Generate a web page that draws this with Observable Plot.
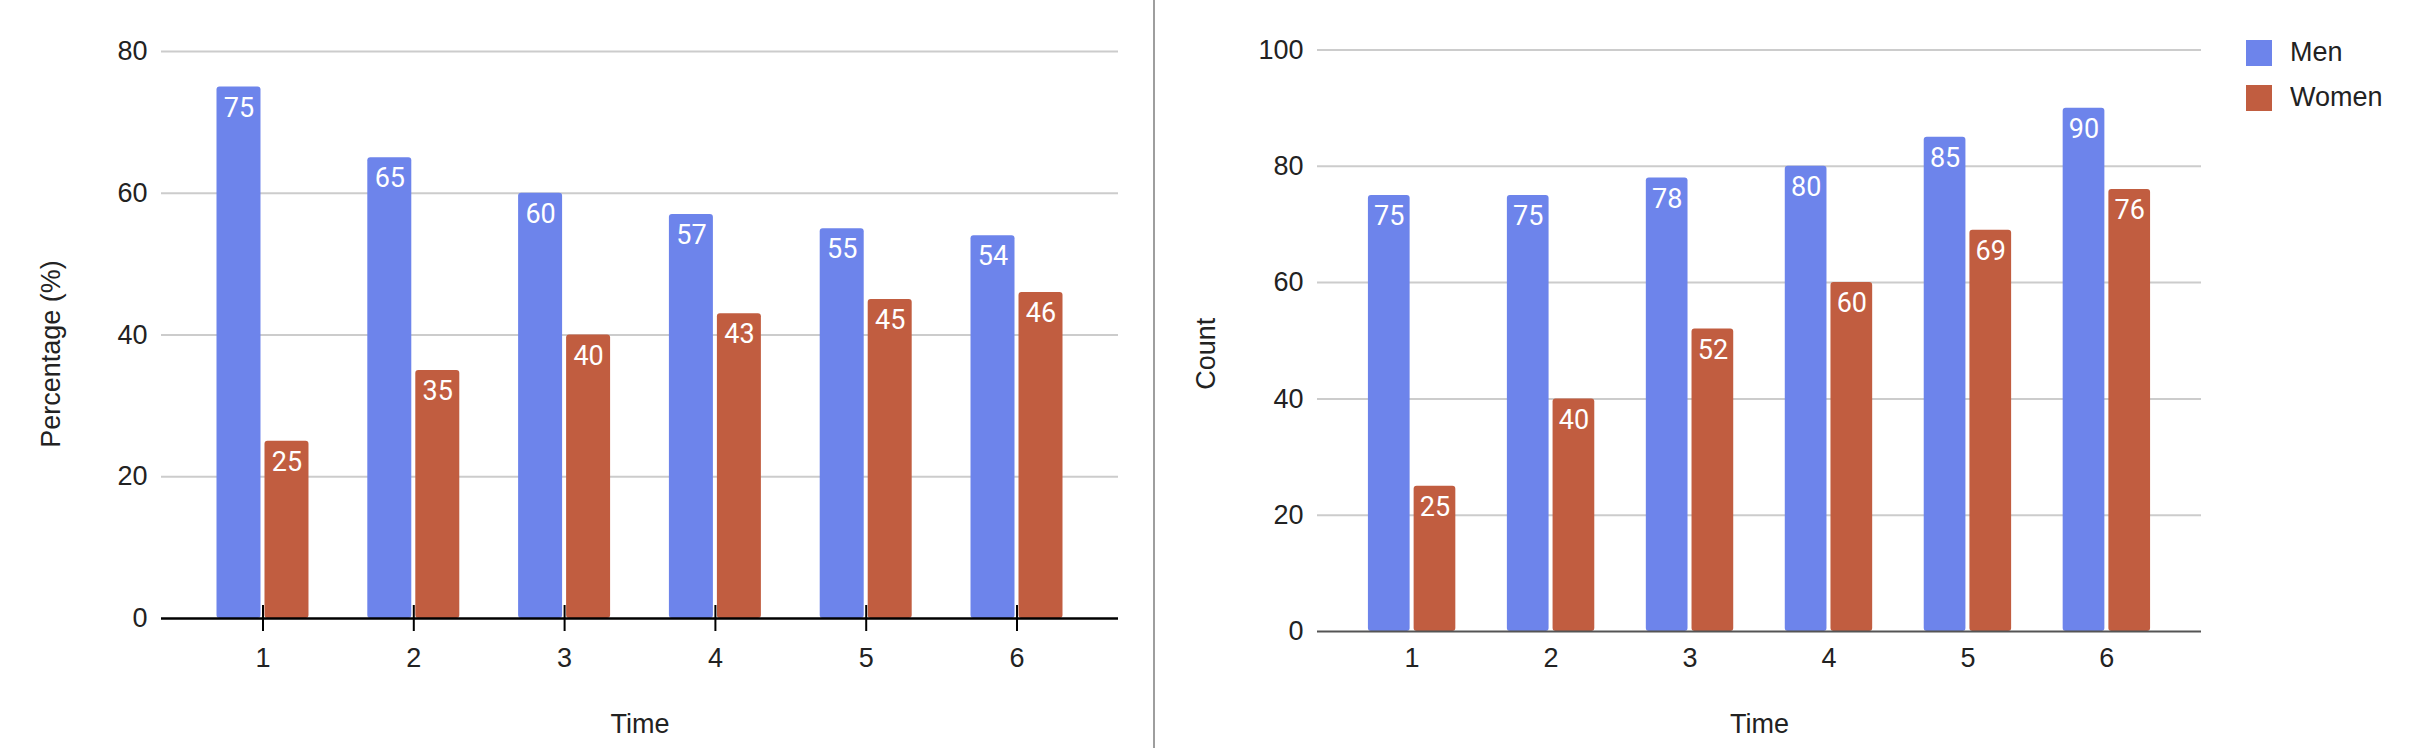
<!DOCTYPE html>
<html>
<head>
<meta charset="utf-8">
<script src="https://cdn.jsdelivr.net/npm/d3@7"></script>
<script src="https://cdn.jsdelivr.net/npm/@observablehq/plot@0.6"></script>
<style>
  html, body { margin: 0; padding: 0; background: #fff; }
  body { width: 2420px; height: 748px; overflow: hidden; position: relative; font-family: "Liberation Sans", Arial, sans-serif; }
  #left { position: absolute; left: 0; top: 0; }
  #right { position: absolute; left: 1160px; top: 0; }
  #divider { position: absolute; left: 1153px; top: 0; width: 2px; height: 748px; background: #9e9e9e; }
  #legend { position: absolute; left: 2246px; top: 37px; }
  #legend .lg-swatch { padding-bottom: 14px !important; margin: 0 !important; }
  #legend .lg-swatch svg { margin-right: 18px !important; border-radius: 3px; }
</style>
</head>
<body>
<div id="left"></div>
<div id="divider"></div>
<div id="right"></div>
<div id="legend"></div>
<script>
// ---- data ----
const times = ["1", "2", "3", "4", "5", "6"];
const series = ["Men", "Women"];
const seriesColors = ["#6d84eb", "#c15d40"];
const pctMen = [75, 65, 60, 57, 55, 54];
const pctWomen = [25, 35, 40, 43, 45, 46];
const cntMen = [75, 75, 78, 80, 85, 90];
const cntWomen = [25, 40, 52, 60, 69, 76];
const pctTicks = [0, 20, 40, 60, 80];
const cntTicks = [0, 20, 40, 60, 80, 100];

function rows(values, name) {
  return times.map((t, i) => ({time: t, series: name, value: values[i]}));
}

function bandWidth(range, n, pi, po) {
  const step = range / (n - pi + 2 * po);
  return step * (1 - pi);
}

function chart(cfg) {
  const {width, marginLeft, marginRight, marginTop, marginBottom, men, women, ticks,
         yLabel, yLabelOffset, yLabelShift, pi, po, axisStroke, axisWidth, xTicks, xPad, xLabelOffset} = cfg;
  const bw = bandWidth(width - marginLeft - marginRight, times.length, pi, po);
  const gap = 4;
  const half = bw / 2 + gap / 2;
  const off = bw / 4 + gap / 4;
  const menRows = rows(men, "Men");
  const womenRows = rows(women, "Women");
  const font = "'Liberation Sans', Arial, sans-serif";
  const marks = [
    Plot.gridY(ticks.filter(d => d > 0), {stroke: "#cccccc", strokeOpacity: 1, strokeWidth: 2}),
    Plot.axisY(ticks, {tickSize: 0, tickPadding: 14, label: null, fill: "#222", fontSize: 27}),
    Plot.text([yLabel], {frameAnchor: "left", rotate: -90, lineAnchor: "top", textAnchor: "middle",
                         dx: -yLabelOffset, dy: yLabelShift, fill: "#222", fontSize: 27}),
    Plot.barY(menRows, {x: "time", y: "value", fill: "series", insetRight: half, rx: 3}),
    Plot.barY(womenRows, {x: "time", y: "value", fill: "series", insetLeft: half, rx: 3}),
    Plot.text(menRows, {x: "time", y: "value", text: d => String(d.value), dx: -off, dy: 21,
                        fill: "white", fontSize: 27, fontFamily: "Roboto"}),
    Plot.text(womenRows, {x: "time", y: "value", text: d => String(d.value), dx: off, dy: 21,
                          fill: "white", fontSize: 27, fontFamily: "Roboto"}),
    Plot.ruleY([0], {stroke: axisStroke, strokeWidth: axisWidth})
  ];
  if (xTicks) {
    marks.push(Plot.axisX({tickSize: 26, dy: -13, fill: "none", stroke: "black", strokeWidth: 2}));
  }
  marks.push(Plot.axisX({tickSize: 0, tickPadding: xPad, label: "Time", labelAnchor: "center", labelArrow: "none",
                         labelOffset: xLabelOffset, fill: "#222", fontSize: 27}));
  return Plot.plot({
    width, height: 748, marginLeft, marginRight, marginTop, marginBottom,
    style: {fontFamily: font, fontSize: "27px", background: "transparent", overflow: "visible", color: "#222"},
    x: {domain: times, paddingInner: pi, paddingOuter: po, round: false},
    y: {domain: [0, ticks[ticks.length - 1]]},
    color: {domain: series, range: seriesColors},
    marks
  });
}

document.getElementById("left").append(chart({
  width: 1154, marginLeft: 161, marginRight: 36, marginTop: 51, marginBottom: 130,
  men: pctMen, women: pctWomen, ticks: pctTicks, yLabel: "Percentage (%)", yLabelOffset: 121, yLabelShift: 19,
  pi: 0.39, po: 0.368, axisStroke: "#000", axisWidth: 2.5, xTicks: true, xPad: 29, xLabelOffset: 114
}));

document.getElementById("right").append(chart({
  width: 1260, marginLeft: 157, marginRight: 219, marginTop: 49.5, marginBottom: 117,
  men: cntMen, women: cntWomen, ticks: cntTicks, yLabel: "Count", yLabelOffset: 122, yLabelShift: 13,
  pi: 0.371, po: 0.3665, axisStroke: "#555", axisWidth: 2, xTicks: false, xPad: 16, xLabelOffset: 101
}));

document.getElementById("legend").append(Plot.legend({
  color: {domain: series, range: seriesColors},
  legend: "swatches", columns: 1, swatchSize: 26, className: "lg",
  style: {fontSize: "27px", fontFamily: "'Liberation Sans', Arial, sans-serif", color: "#222"}
}));
</script>
</body>
</html>
